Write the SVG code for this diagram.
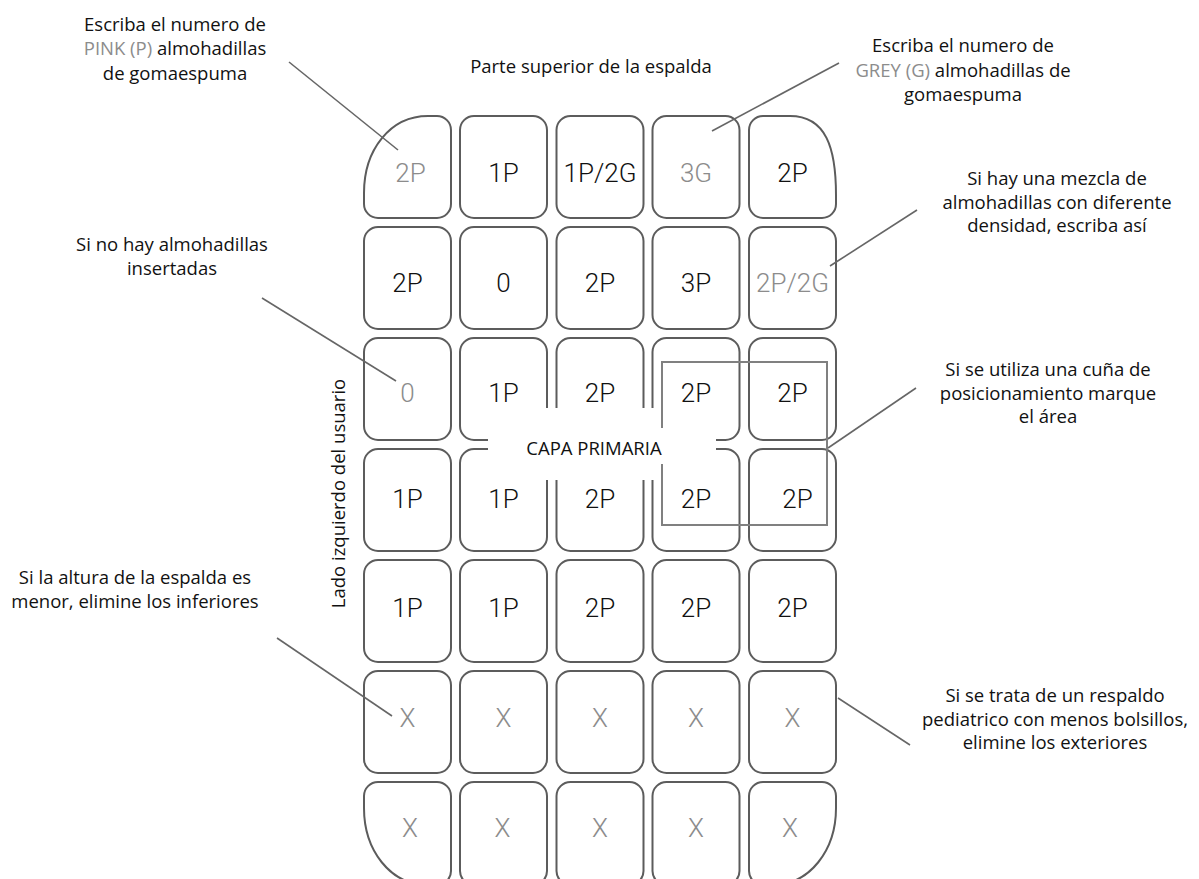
<svg xmlns="http://www.w3.org/2000/svg" width="1199" height="879" viewBox="0 0 1199 879">
<style>
.cell{fill:#fff;stroke:#5c5c5c;stroke-width:2}
.ct{font-family:Roboto,"Liberation Sans",sans-serif;font-weight:300;font-size:26px;text-anchor:middle;fill:#111}
.cg{fill:#8c8c8c}
.lbl{font-family:"Open Sans","Noto Sans","Liberation Sans",sans-serif;font-size:18.5px;text-anchor:middle;fill:#111}
.gr{fill:#8c8c8c}
.lead{stroke:#666;stroke-width:1.6;fill:none}
.wedge{fill:none;stroke:#808080;stroke-width:2}
</style>
<rect width="1199" height="879" fill="#fff"/>

<g id="labels">
<text class="lbl"><tspan x="175" y="31">Escriba el numero de</tspan><tspan x="175" y="55"><tspan class="gr">PINK (P)</tspan> almohadillas</tspan><tspan x="175" y="79.5">de gomaespuma</tspan></text>
<text class="lbl"><tspan x="963" y="51.7">Escriba el numero de</tspan><tspan x="963" y="76.5"><tspan class="gr">GREY (G)</tspan> almohadillas de</tspan><tspan x="963" y="100.5">gomaespuma</tspan></text>
<text class="lbl" x="591" y="73.3">Parte superior de la espalda</text>
<text class="lbl"><tspan x="1057" y="185">Si hay una mezcla de</tspan><tspan x="1057" y="208.5">almohadillas con diferente</tspan><tspan x="1057" y="232">densidad, escriba así</tspan></text>
<text class="lbl"><tspan x="172" y="251">Si no hay almohadillas</tspan><tspan x="172" y="275">insertadas</tspan></text>
<text class="lbl"><tspan x="1048" y="376">Si se utiliza una cuña de</tspan><tspan x="1048" y="399.5">posicionamiento marque</tspan><tspan x="1048" y="423">el área</tspan></text>
<text class="lbl"><tspan x="135" y="584">Si la altura de la espalda es</tspan><tspan x="135" y="608">menor, elimine los inferiores</tspan></text>
<text class="lbl"><tspan x="1055" y="701.7">Si se trata de un respaldo</tspan><tspan x="1055" y="725.5">pediatrico con menos bolsillos,</tspan><tspan x="1055" y="749">elimine los exteriores</tspan></text>
<text class="lbl" transform="translate(344.5,493.5) rotate(-90)" x="0" y="0">Lado izquierdo del usuario</text>
</g>

<g id="r1c1"><path class="cell" d="M428,116 H437 A14,14 0 0 1 451,130 V204 A14,14 0 0 1 437,218 H378 A14,14 0 0 1 364,204 V193 C364,150 390,116 428,116 Z"/><text class="ct cg" x="410.5" y="182.3">2P</text></g>
<g id="r1c2"><rect class="cell" x="460" y="116" width="87" height="102" rx="14"/><text class="ct" x="503.5" y="182.3">1P</text></g>
<g id="r1c3"><rect class="cell" x="556.5" y="116" width="87" height="102" rx="14"/><text class="ct" x="600" y="182.3">1P/2G</text></g>
<g id="r1c4"><rect class="cell" x="652.5" y="116" width="87" height="102" rx="14"/><text class="ct cg" x="696" y="182.3">3G</text></g>
<g id="r1c5"><path class="cell" d="M763,116 H790 C826,116 836,148 836,195 V204 A14,14 0 0 1 822,218 H763 A14,14 0 0 1 749,204 V130 A14,14 0 0 1 763,116 Z"/><text class="ct" x="792.5" y="182.3">2P</text></g>

<g id="r2c1"><rect class="cell" x="364" y="227" width="87" height="102" rx="14"/><text class="ct" x="407.5" y="292.3">2P</text></g>
<g id="r2c2"><rect class="cell" x="460" y="227" width="87" height="102" rx="14"/><text class="ct" x="503.5" y="292.3">0</text></g>
<g id="r2c3"><rect class="cell" x="556.5" y="227" width="87" height="102" rx="14"/><text class="ct" x="600" y="292.3">2P</text></g>
<g id="r2c4"><rect class="cell" x="652.5" y="227" width="87" height="102" rx="14"/><text class="ct" x="696" y="292.3">3P</text></g>
<g id="r2c5"><rect class="cell" x="749" y="227" width="87" height="102" rx="14"/><text class="ct cg" x="792.5" y="292.3">2P/2G</text></g>

<g id="r3c1"><rect class="cell" x="364" y="338" width="87" height="102" rx="14"/><text class="ct cg" x="407.5" y="402.3">0</text></g>
<g id="r3c2"><rect class="cell" x="460" y="338" width="87" height="102" rx="14"/><text class="ct" x="503.5" y="402.3">1P</text></g>
<g id="r3c3"><rect class="cell" x="556.5" y="338" width="87" height="102" rx="14"/><text class="ct" x="600" y="402.3">2P</text></g>
<g id="r3c4"><rect class="cell" x="652.5" y="338" width="87" height="102" rx="14"/><text class="ct" x="696" y="402.3">2P</text></g>
<g id="r3c5"><rect class="cell" x="749" y="338" width="87" height="102" rx="14"/><text class="ct" x="792.5" y="402.3">2P</text></g>

<g id="r4c1"><rect class="cell" x="364" y="449" width="87" height="102" rx="14"/><text class="ct" x="407.5" y="508.3">1P</text></g>
<g id="r4c2"><rect class="cell" x="460" y="449" width="87" height="102" rx="14"/><text class="ct" x="503.5" y="508.3">1P</text></g>
<g id="r4c3"><rect class="cell" x="556.5" y="449" width="87" height="102" rx="14"/><text class="ct" x="600" y="508.3">2P</text></g>
<g id="r4c4"><rect class="cell" x="652.5" y="449" width="87" height="102" rx="14"/><text class="ct" x="696" y="508.3">2P</text></g>
<g id="r4c5"><rect class="cell" x="749" y="449" width="87" height="102" rx="14"/><text class="ct" x="797.5" y="508.3">2P</text></g>

<g id="r5c1"><rect class="cell" x="364" y="560" width="87" height="102" rx="14"/><text class="ct" x="407.5" y="617.3">1P</text></g>
<g id="r5c2"><rect class="cell" x="460" y="560" width="87" height="102" rx="14"/><text class="ct" x="503.5" y="617.3">1P</text></g>
<g id="r5c3"><rect class="cell" x="556.5" y="560" width="87" height="102" rx="14"/><text class="ct" x="600" y="617.3">2P</text></g>
<g id="r5c4"><rect class="cell" x="652.5" y="560" width="87" height="102" rx="14"/><text class="ct" x="696" y="617.3">2P</text></g>
<g id="r5c5"><rect class="cell" x="749" y="560" width="87" height="102" rx="14"/><text class="ct" x="792.5" y="617.3">2P</text></g>

<g id="r6c1"><rect class="cell" x="364" y="671" width="87" height="102" rx="14"/><text class="ct cg" x="407.5" y="727.3">X</text></g>
<g id="r6c2"><rect class="cell" x="460" y="671" width="87" height="102" rx="14"/><text class="ct cg" x="503.5" y="727.3">X</text></g>
<g id="r6c3"><rect class="cell" x="556.5" y="671" width="87" height="102" rx="14"/><text class="ct cg" x="600" y="727.3">X</text></g>
<g id="r6c4"><rect class="cell" x="652.5" y="671" width="87" height="102" rx="14"/><text class="ct cg" x="696" y="727.3">X</text></g>
<g id="r6c5"><rect class="cell" x="749" y="671" width="87" height="102" rx="14"/><text class="ct cg" x="792.5" y="727.3">X</text></g>

<g id="r7c1"><path class="cell" d="M378,782 H437 A14,14 0 0 1 451,796 V871 A14,14 0 0 1 437,885 H428 C390,885 364,850 364,808 V796 A14,14 0 0 1 378,782 Z"/><text class="ct cg" x="410" y="837.3">X</text></g>
<g id="r7c2"><rect class="cell" x="460" y="782" width="87" height="103" rx="14"/><text class="ct cg" x="502.5" y="837.3">X</text></g>
<g id="r7c3"><rect class="cell" x="556.5" y="782" width="87" height="103" rx="14"/><text class="ct cg" x="600" y="837.3">X</text></g>
<g id="r7c4"><rect class="cell" x="652.5" y="782" width="87" height="103" rx="14"/><text class="ct cg" x="696" y="837.3">X</text></g>
<g id="r7c5"><path class="cell" d="M763,782 H822 A14,14 0 0 1 836,796 V808 C836,850 810,885 772,885 H763 A14,14 0 0 1 749,871 V796 A14,14 0 0 1 763,782 Z"/><text class="ct cg" x="790" y="837.3">X</text></g>

<g id="capa-primaria">
<rect x="488" y="408" width="172" height="72" fill="#fff"/>
<rect class="wedge" x="662" y="362" width="165" height="163"/>
<rect x="488" y="428" width="228" height="36" fill="#fff"/>
<text class="lbl" x="594" y="455" font-size="19">CAPA PRIMARIA</text>
</g>

<g id="connectors">
<line class="lead" x1="289" y1="62" x2="398" y2="150"/>
<line class="lead" x1="839" y1="63" x2="712" y2="131"/>
<line class="lead" x1="917" y1="210" x2="830" y2="266"/>
<line class="lead" x1="262" y1="298" x2="396" y2="381"/>
<line class="lead" x1="916" y1="388" x2="828" y2="448"/>
<line class="lead" x1="277" y1="638" x2="392" y2="716"/>
<line class="lead" x1="838" y1="698" x2="910" y2="745"/>
</g>
</svg>
